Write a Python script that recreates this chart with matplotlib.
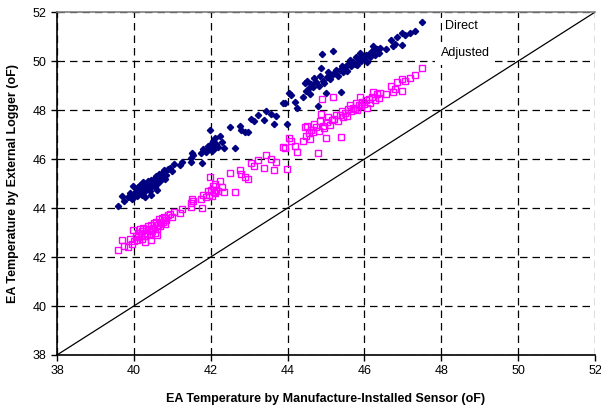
import matplotlib.pyplot as plt

plt.rcParams['font.family'] = ['Liberation Sans', 'DejaVu Sans']

# EA temperature from the manufacturer-installed sensor (x) and the external logger (y)
sensor_temp = [
    39.60, 39.68, 39.75, 39.85, 39.90, 39.94, 39.99, 40.00, 40.05, 40.08,
    40.10, 40.12, 40.15, 40.18, 40.20, 40.22, 40.25, 40.28, 40.30, 40.32,
    40.35, 40.38, 40.40, 40.42, 40.45, 40.48, 40.50, 40.52, 40.55, 40.58,
    40.60, 40.62, 40.65, 40.68, 40.70, 40.72, 40.75, 40.78, 40.80, 40.82,
    40.85, 40.88, 40.30, 40.45, 40.60, 40.95, 41.00, 41.05, 41.20, 41.25,
    41.50, 41.50, 41.52, 41.55, 41.75, 41.78, 41.80, 41.88, 41.92, 41.95,
    41.98, 42.00, 42.03, 42.05, 42.08, 42.10, 42.12, 42.15, 42.20, 42.25,
    42.30, 42.35, 42.50, 42.63, 42.75, 42.80, 42.88, 42.98, 43.05, 43.12,
    43.22, 43.40, 43.45, 43.58, 43.65, 43.70, 43.88, 43.93, 43.98, 44.05,
    44.10, 44.20, 44.25, 44.40, 44.45, 44.48, 44.50, 44.55, 44.58, 44.62,
    44.65, 44.70, 44.75, 44.80, 44.82, 44.85, 44.88, 44.90, 44.92, 44.95,
    45.00, 45.02, 45.05, 45.10, 45.15, 45.19, 45.20, 45.25, 45.30, 45.36,
    45.40, 45.42, 45.45, 45.50, 45.55, 45.58, 45.62, 45.65, 45.70, 45.75,
    45.78, 45.80, 45.85, 45.88, 45.90, 45.95, 46.00, 46.05, 46.08, 46.12,
    46.15, 46.20, 46.23, 46.28, 46.32, 46.38, 46.40, 46.55, 46.70, 46.75,
    46.80, 46.85, 46.97, 46.97, 47.05, 47.19, 47.32, 47.49,
]

direct_temp = [
    44.10, 44.50, 44.30, 44.45, 44.60, 44.35, 44.90, 44.55, 44.70, 44.50,
    44.85, 44.60, 44.95, 44.75, 44.55, 44.90, 45.05, 44.70, 44.85, 45.00,
    44.80, 45.10, 44.95, 44.70, 45.15, 44.90, 45.05, 45.20, 44.85, 45.30,
    45.00, 45.15, 45.40, 45.10, 45.25, 45.45, 45.30, 45.55, 45.20, 45.50,
    45.35, 45.60, 44.45, 44.55, 44.75, 45.65, 45.50, 45.80, 45.75, 45.90,
    46.05, 45.90, 46.25, 46.15, 46.25, 45.85, 46.40, 46.30, 46.55, 46.40,
    47.18, 46.60, 46.35, 46.75, 46.50, 46.45, 46.85, 46.60, 46.50, 46.95,
    46.70, 46.45, 47.30, 46.45, 47.35, 47.20, 47.10, 47.10, 47.65, 47.55,
    47.80, 47.60, 47.95, 47.85, 47.45, 47.75, 48.30, 48.28, 47.45, 48.70,
    48.60, 48.35, 48.10, 48.55, 49.10, 48.80, 49.20, 48.90, 48.65, 49.05,
    48.95, 49.30, 49.15, 48.15, 49.00, 49.40, 49.70, 50.30, 49.20, 49.10,
    48.70, 49.35, 49.55, 49.25, 49.45, 50.40, 49.50, 49.65, 49.40, 49.65,
    48.75, 49.80, 49.55, 49.75, 49.60, 49.90, 50.05, 49.80, 49.95, 49.90,
    50.15, 49.85, 50.05, 50.35, 50.00, 50.20, 50.10, 50.25, 49.95, 50.30,
    50.15, 50.40, 50.60, 50.25, 50.50, 50.35, 50.55, 50.50, 50.85, 50.60,
    50.70, 51.00, 51.15, 50.65, 51.05, 51.15, 51.25, 51.58,
]

adjusted_temp = [
    42.30, 42.70, 42.45, 42.40, 42.75, 42.55, 43.10, 42.65, 42.85, 42.70,
    43.00, 42.80, 43.15, 42.90, 42.75, 43.05, 43.20, 42.85, 43.00, 43.15,
    42.95, 43.25, 43.10, 42.90, 43.30, 43.05, 43.20, 43.40, 43.00, 43.45,
    43.15, 43.30, 43.55, 43.25, 43.40, 43.60, 43.45, 43.65, 43.35, 43.60,
    43.50, 43.70, 42.60, 42.70, 42.90, 43.75, 43.65, 43.85, 43.80, 43.95,
    44.20, 44.05, 44.35, 44.30, 44.35, 44.00, 44.55, 44.45, 44.70, 44.55,
    45.27, 44.75, 44.50, 44.90, 44.65, 44.60, 45.00, 44.75, 44.70, 45.10,
    44.85, 44.65, 45.45, 44.65, 45.55, 45.40, 45.25, 45.20, 45.85, 45.70,
    45.95, 45.65, 46.15, 46.00, 45.55, 45.90, 46.50, 46.45, 45.60, 46.85,
    46.75, 46.55, 46.30, 46.75, 47.30, 46.95, 47.35, 47.05, 46.80, 47.20,
    47.10, 47.45, 47.30, 46.25, 47.15, 47.55, 47.85, 48.45, 47.35, 47.25,
    46.85, 47.50, 47.70, 47.40, 47.60, 48.55, 47.65, 47.80, 47.55, 47.80,
    46.90, 47.95, 47.70, 47.90, 47.75, 48.05, 48.20, 47.95, 48.10, 48.05,
    48.30, 48.00, 48.20, 48.55, 48.15, 48.35, 48.25, 48.40, 48.10, 48.45,
    48.30, 48.55, 48.75, 48.40, 48.65, 48.50, 48.70, 48.65, 49.00, 48.75,
    48.85, 49.15, 49.25, 48.80, 49.20, 49.30, 49.45, 49.72,
]

axis_ticks = [38, 40, 42, 44, 46, 48, 50, 52]

fig = plt.figure(figsize=(6.01, 4.05), dpi=100)
ax = fig.add_axes([0.0948, 0.1235, 0.8952, 0.8465])

ax.plot(sensor_temp, direct_temp, linestyle='none', marker='D', markersize=3.2,
        color='#000080', zorder=3)
ax.plot(sensor_temp, adjusted_temp, linestyle='none', marker='s', markersize=4.2,
        markerfacecolor='none', markeredgecolor='#FF00FF', markeredgewidth=1.0, zorder=3)

# 1:1 reference line
ax.plot([axis_ticks[0], axis_ticks[-1]], [axis_ticks[0], axis_ticks[-1]],
        color='black', linewidth=0.9, zorder=2)

ax.set_xlim(38, 52)
ax.set_ylim(38, 52)
ax.set_xticks(axis_ticks)
ax.set_yticks(axis_ticks)
ax.tick_params(direction='out', length=4, width=1, labelsize=9, colors='black')
ax.grid(True, color='black', linestyle=(0, (6, 4)), linewidth=0.9, zorder=1)

ax.spines['right'].set_visible(False)
ax.spines['top'].set_color('#808080')
ax.spines['top'].set_linewidth(1.2)
for side in ('left', 'bottom'):
    ax.spines[side].set_color('black')
    ax.spines[side].set_linewidth(1.2)

ax.set_xlabel('EA Temperature by Manufacture-Installed Sensor (oF)', fontsize=9,
              fontweight='bold', labelpad=11)
ax.set_ylabel('EA Temperature by External Logger (oF)', fontsize=9,
              fontweight='bold', labelpad=10)

# series labels
ax.text(48.10, 51.44, 'Direct', fontsize=9, va='center', ha='left', zorder=4,
        bbox=dict(facecolor='white', edgecolor='none', pad=2))
ax.text(47.99, 50.33, 'Adjusted', fontsize=9, va='center', ha='left', zorder=4,
        bbox=dict(facecolor='white', edgecolor='none', pad=4))

fig.savefig('out.png', dpi=100)
